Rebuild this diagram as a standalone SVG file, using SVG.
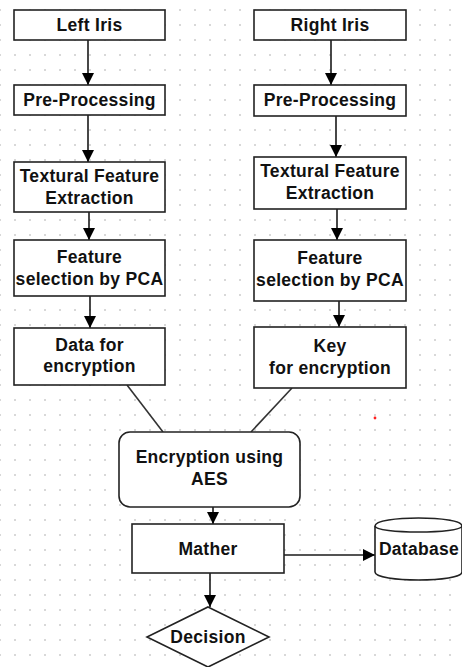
<svg xmlns="http://www.w3.org/2000/svg" width="462" height="667" viewBox="0 0 462 667">
  <style>
    .box { fill: #ffffff; stroke: #222222; stroke-width: 1.6; }
    .lbl { font-family: "Liberation Sans", Arial, sans-serif; font-weight: bold; font-size: 17.5px; letter-spacing: 0.3px; fill: #111111; text-anchor: middle; }
    .edge { fill: none; stroke: #1a1a1a; stroke-width: 1.6; }
    .link { fill: none; stroke: #333333; stroke-width: 1.6; }
    .dots { fill: none; stroke: #bebebe; stroke-width: 1.6; stroke-dasharray: 1.6 13.4; }
  </style>
  <defs>
    <marker id="arrow" viewBox="0 0 12 12" refX="12" refY="6" markerWidth="12" markerHeight="12" markerUnits="userSpaceOnUse" orient="auto">
      <path d="M0,0 L12,6 L0,12 Z" fill="#000000"/>
    </marker>
  </defs>

  <!-- page background with dotted grid, one dashed row every 15px -->
  <rect width="462" height="667" fill="#ffffff"/>
  <path class="dots" d="M-0.8,10 H470 M-0.8,25 H470 M-0.8,40 H470 M-0.8,55 H470 M-0.8,70 H470 M-0.8,85 H470 M-0.8,100 H470 M-0.8,115 H470 M-0.8,130 H470 M-0.8,145 H470 M-0.8,160 H470 M-0.8,175 H470 M-0.8,190 H470 M-0.8,205 H470 M-0.8,220 H470 M-0.8,235 H470 M-0.8,250 H470 M-0.8,265 H470 M-0.8,280 H470 M-0.8,295 H470 M-0.8,310 H470 M-0.8,325 H470 M-0.8,340 H470 M-0.8,355 H470 M-0.8,370 H470 M-0.8,385 H470 M-0.8,400 H470 M-0.8,415 H470 M-0.8,430 H470 M-0.8,445 H470 M-0.8,460 H470 M-0.8,475 H470 M-0.8,490 H470 M-0.8,505 H470 M-0.8,520 H470 M-0.8,535 H470 M-0.8,550 H470 M-0.8,565 H470 M-0.8,580 H470 M-0.8,595 H470 M-0.8,610 H470 M-0.8,625 H470 M-0.8,640 H470 M-0.8,655 H470"/>
  <circle cx="375" cy="418" r="1.4" fill="#ff2020"/>

  <!-- connectors -->
  <g id="connectors">
    <path class="edge" d="M88,40 L88,85" marker-end="url(#arrow)"/>
    <path class="edge" d="M88,115 L88,162" marker-end="url(#arrow)"/>
    <path class="edge" d="M89,212 L89,240" marker-end="url(#arrow)"/>
    <path class="edge" d="M90,296 L90,328" marker-end="url(#arrow)"/>
    <path class="edge" d="M331,40 L331,85" marker-end="url(#arrow)"/>
    <path class="edge" d="M336,116 L336,157" marker-end="url(#arrow)"/>
    <path class="edge" d="M337,209 L337,240" marker-end="url(#arrow)"/>
    <path class="edge" d="M339,301 L339,327" marker-end="url(#arrow)"/>
    <path class="link" d="M127,385 L163,432"/>
    <path class="link" d="M292,388 L251,432"/>
    <path class="edge" d="M213,507 L213,524" marker-end="url(#arrow)"/>
    <path class="edge" d="M284,555 L375,555" marker-end="url(#arrow)"/>
    <path class="edge" d="M210,573 L210,607" marker-end="url(#arrow)"/>
  </g>

  <!-- left iris chain -->
  <g id="left-iris">
    <rect class="box" x="14" y="10" width="151" height="30"/>
    <text class="lbl" x="89.5" y="31">Left Iris</text>
  </g>
  <g id="left-preprocessing">
    <rect class="box" x="14" y="85" width="151" height="30"/>
    <text class="lbl" x="89.5" y="106">Pre-Processing</text>
  </g>
  <g id="left-texture">
    <rect class="box" x="14" y="162" width="151" height="50"/>
    <text class="lbl" x="89.5" y="182">Textural Feature</text>
    <text class="lbl" x="89.5" y="204">Extraction</text>
  </g>
  <g id="left-pca">
    <rect class="box" x="14" y="240" width="151" height="56"/>
    <text class="lbl" x="89.5" y="263">Feature</text>
    <text class="lbl" x="89.5" y="285">selection by PCA</text>
  </g>
  <g id="left-data">
    <rect class="box" x="14" y="328" width="151" height="57"/>
    <text class="lbl" x="89.5" y="351">Data for</text>
    <text class="lbl" x="89.5" y="372">encryption</text>
  </g>

  <!-- right iris chain -->
  <g id="right-iris">
    <rect class="box" x="254" y="10" width="152" height="30"/>
    <text class="lbl" x="330" y="31">Right Iris</text>
  </g>
  <g id="right-preprocessing">
    <rect class="box" x="254" y="85" width="152" height="31"/>
    <text class="lbl" x="330" y="106">Pre-Processing</text>
  </g>
  <g id="right-texture">
    <rect class="box" x="254" y="157" width="152" height="52"/>
    <text class="lbl" x="330" y="177">Textural Feature</text>
    <text class="lbl" x="330" y="199">Extraction</text>
  </g>
  <g id="right-pca">
    <rect class="box" x="254" y="240" width="152" height="61"/>
    <text class="lbl" x="330" y="264">Feature</text>
    <text class="lbl" x="330" y="286">selection by PCA</text>
  </g>
  <g id="right-key">
    <rect class="box" x="254" y="327" width="152" height="61"/>
    <text class="lbl" x="330" y="352">Key</text>
    <text class="lbl" x="330" y="374">for encryption</text>
  </g>

  <!-- merge and output -->
  <g id="encryption">
    <rect class="box" x="119" y="432" width="181" height="75" rx="11" ry="11"/>
    <text class="lbl" x="209.5" y="463">Encryption using</text>
    <text class="lbl" x="209.5" y="485">AES</text>
  </g>
  <g id="matcher">
    <rect class="box" x="132" y="524" width="152" height="49"/>
    <text class="lbl" x="208" y="555">Mather</text>
  </g>
  <g id="database">
    <path class="box" d="M375,526 C375,515.3 462,515.3 462,526 L462,572 C462,582.7 375,582.7 375,572 Z"/>
    <path class="box" style="fill:none" d="M375,526 C375,534 462,534 462,526"/>
    <text class="lbl" x="419" y="555">Database</text>
  </g>
  <g id="decision">
    <path class="box" d="M208,607 L269,637 L208,667 L147,637 Z"/>
    <text class="lbl" x="208" y="643">Decision</text>
  </g>
</svg>
